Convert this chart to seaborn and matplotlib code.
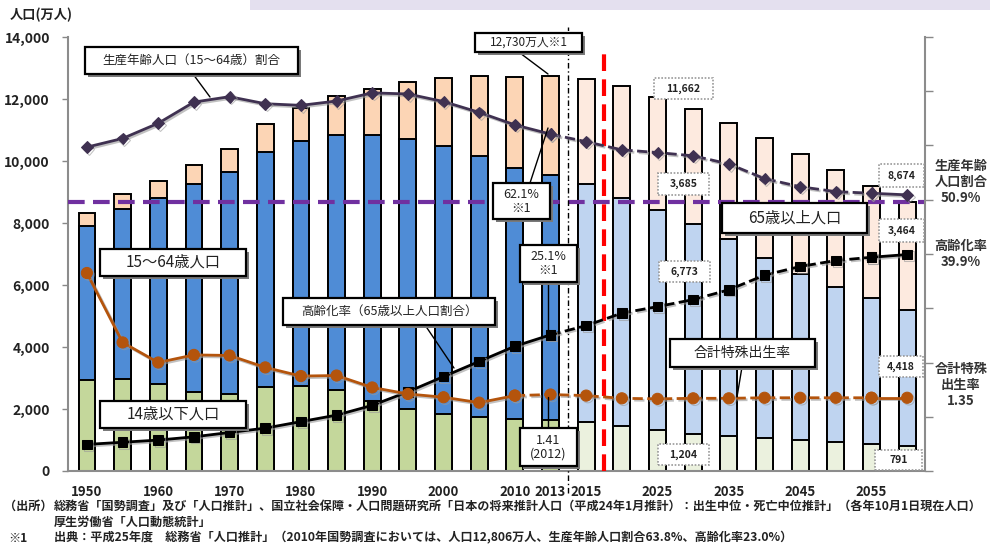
import numpy as np
import pandas as pd
import matplotlib
matplotlib.use("Agg")
import matplotlib.pyplot as plt
import matplotlib.patheffects as pe
import seaborn as sns
from matplotlib.patches import Rectangle
from matplotlib.lines import Line2D

# ---------------- data ----------------
years = ['1950', '1955', '1960', '1965', '1970', '1975', '1980', '1985', '1990', '1995',
         '2000', '2005', '2010', '2013', '2015', '2020', '2025', '2030', '2035', '2040',
         '2045', '2050', '2055', '2060']
pop_0_14 = [2943, 2980, 2807, 2553, 2482, 2722, 2751, 2603, 2249, 2001,
            1847, 1752, 1680, 1639, 1583, 1457, 1324, 1204, 1129, 1073,
            1012, 939, 861, 791]
pop_15_64 = [4966, 5473, 6000, 6693, 7157, 7581, 7883, 8251, 8590, 8716,
             8622, 8409, 8103, 7901, 7682, 7341, 7085, 6773, 6343, 5787,
             5353, 5001, 4706, 4418]
pop_65_over = [411, 475, 535, 618, 733, 887, 1065, 1247, 1489, 1826,
               2204, 2576, 2925, 3190, 3395, 3612, 3657, 3685, 3741, 3868,
               3856, 3768, 3626, 3464]
working_age_ratio = [59.7, 61.3, 64.1, 68.0, 69.0, 67.7, 67.4, 68.2, 69.7, 69.5,
                     68.1, 66.1, 63.8, 62.1, 60.7, 59.2, 58.7, 58.1, 56.6, 53.9,
                     52.4, 51.5, 51.2, 50.9]
aging_rate = [4.9, 5.3, 5.7, 6.3, 7.1, 7.9, 9.1, 10.3, 12.1, 14.6,
              17.4, 20.2, 23.0, 25.1, 26.8, 29.1, 30.3, 31.6, 33.4, 36.1,
              37.7, 38.8, 39.4, 39.9]
fertility_rate = [3.65, 2.37, 2.00, 2.14, 2.13, 1.91, 1.75, 1.76, 1.54, 1.42,
                  1.36, 1.26, 1.39, 1.41, 1.39, 1.34, 1.33, 1.34, 1.34, 1.35,
                  1.35, 1.35, 1.35, 1.35]
n_actual = 14  # 1950-2013 are actual values, the rest are projections
tick_years = ['1950', '1960', '1970', '1980', '1990', '2000', '2010', '2013', '2015',
              '2025', '2035', '2045', '2055']
y_ticks = [0, 2000, 4000, 6000, 8000, 10000, 12000, 14000]

# ---------------- style ----------------
sns.set_theme(style='white')
plt.rcParams['font.family'] = ['Noto Sans CJK JP', 'DejaVu Sans']
plt.rcParams['axes.unicode_minus'] = False

W, H = 990, 547
fig = plt.figure(figsize=(W / 100, H / 100), dpi=100)
fig.patch.set_facecolor('white')
ax = fig.add_axes([68 / W, 1 - 471 / H, (925 - 68) / W, (471 - 37) / H])

df = pd.DataFrame({'year': years, 'young': pop_0_14, 'work': pop_15_64, 'old': pop_65_over})
df['cum_work'] = df['young'] + df['work']
df['total'] = df['cum_work'] + df['old']
idx = np.arange(len(years))
is_actual = idx < n_actual


def colors(actual, proj):
    return [actual if a else proj for a in is_actual]


layers = [('total', '#fcd5b5', '#fdeadf'),
          ('cum_work', '#4f8cd6', '#bfd4f0'),
          ('young', '#c4d79b', '#ebf1de')]
for col, ca, cp in layers:
    sns.barplot(data=df, x='year', y=col, hue='year', order=years, hue_order=years,
                palette=colors(ca, cp), saturation=1, width=0.47, edgecolor='black',
                linewidth=1.4, legend=False, ax=ax, zorder=2)

ax.set_xlim(-0.53, 23.47)
ax.set_ylim(0, 14000)
ax.set_xlabel('')
ax.set_ylabel('')
ax.set_yticks(y_ticks)
ax.set_yticklabels([f'{v:,}' for v in y_ticks], fontsize=10, fontweight='bold', color='#222222')
ax.set_xticks([years.index(t) for t in tick_years])
ax.set_xticklabels(tick_years, fontsize=9.5, fontweight='bold', color='#222222')
ax.set_xticks(np.arange(len(years) + 1) - 0.5, minor=True)
ax.tick_params(axis='x', which='major', length=0, pad=10)
ax.tick_params(axis='x', which='minor', length=5, color='#888888', width=1, direction='out')
ax.tick_params(axis='y', which='major', length=4, color='#888888', width=1, direction='out', pad=9)
for s in ['top', 'right']:
    ax.spines[s].set_visible(False)
for s in ['left', 'bottom']:
    ax.spines[s].set_color('#8c8c8c')
    ax.spines[s].set_linewidth(1.5)

# reference lines
ax.axhline(df['total'].iloc[-1], color='#7030a0', lw=3, dashes=(4, 2), zorder=4)
ax.axvline(14.5, ymin=0, ymax=0.98, color='#ff0000', lw=3, dashes=(4, 2), zorder=4)
ax.axvline(13.5, ymin=-0.05, ymax=1.023, color='black', lw=1, clip_on=False,
           linestyle=(0, (4, 2, 1, 2)), zorder=4)

# ratio axes
ax2 = ax.twinx()
ax3 = ax.twinx()

shadow = [pe.SimpleLineShadow(offset=(1.2, -1.2), shadow_color='#999999', alpha=0.6), pe.Normal()]


def draw_series(axis, values, color, marker, ms, dash_from):
    vals = np.asarray(values)
    parts = [(0, dash_from + 1, '-'), (dash_from, 23, '--'), (22, 24, '-')]
    for a, b, ls in parts:
        sns.lineplot(x=idx[a:b], y=vals[a:b], color=color, linestyle=ls, lw=2,
                     marker=marker, markersize=ms, markeredgecolor=color,
                     markerfacecolor=color, ax=axis, path_effects=shadow, zorder=5)
    axis.set_xlabel('')
    axis.set_ylabel('')


draw_series(ax2, working_age_ratio, '#3f3151', 'D', 6, 13)
draw_series(ax2, aging_rate, '#000000', 's', 7, 13)
draw_series(ax3, fertility_rate, '#b4540c', 'o', 8, 12)

ax2.set_ylim(0, 80)
ax2.set_yticks(np.arange(0, 81, 10))
ax2.set_yticklabels([])
ax2.tick_params(axis='y', length=6, color='#888888', width=1, direction='out')
for s in ['top', 'left', 'bottom']:
    ax2.spines[s].set_visible(False)
ax2.spines['right'].set_color('#8c8c8c')
ax2.spines['right'].set_linewidth(1.5)

ax3.set_ylim(0, 8)
ax3.set_yticks([])
for s in ax3.spines.values():
    s.set_visible(False)

# ---------------- annotations (pixel layout) ----------------
def fx(x):
    return x / W


def fy(y):
    return 1 - y / H


def box(x0, y0, x1, y1, text, fs, dotted=False, weight='normal', shadow_px=3):
    if not dotted and shadow_px:
        fig.add_artist(Rectangle((fx(x0 + shadow_px), fy(y1 + shadow_px)), (x1 - x0) / W,
                                 (y1 - y0) / H, transform=fig.transFigure,
                                 facecolor='#7a7a7a', edgecolor='none', zorder=8))
    fig.add_artist(Rectangle((fx(x0), fy(y1)), (x1 - x0) / W, (y1 - y0) / H,
                             transform=fig.transFigure, facecolor='white',
                             edgecolor='#999999' if dotted else 'black',
                             lw=1.2 if dotted else 1.6,
                             linestyle=(0, (1, 1)) if dotted else '-', zorder=9))
    fig.text(fx((x0 + x1) / 2), fy((y0 + y1) / 2), text, ha='center', va='center',
             fontsize=fs, fontweight=weight, color='#222222', zorder=10, linespacing=1.1)


def leader(x0, y0, x1, y1):
    fig.add_artist(Line2D([fx(x0), fx(x1)], [fy(y0), fy(y1)], color='black', lw=1,
                          transform=fig.transFigure, zorder=7))


leader(193, 74, 210, 97)
box(85, 47, 298, 74, '生産年齢人口（15～64歳）割合', 9)
box(100, 249, 246, 276, '15～64歳人口', 11)
box(100, 401, 246, 428, '14歳以下人口', 11)
leader(425, 325, 454, 368)
box(283, 298, 495, 325, '高齢化率（65歳以上人口割合）', 9)
leader(520, 53, 548, 74)
box(475, 33, 582, 52, '12,730万人※1', 8.5)
leader(530, 183, 548, 128)
box(493, 183, 550, 219, '62.1%\n※1', 9)
leader(548, 282, 548, 333)
box(520, 245, 577, 282, '25.1%\n※1', 9)
leader(548, 397, 548, 428)
box(520, 428, 577, 466, '1.41\n(2012)', 9)
box(722, 203, 867, 233, '65歳以上人口', 11)
leader(742, 367, 737, 397)
box(670, 339, 815, 367, '合計特殊出生率', 10)

box(654, 78, 713, 99, '11,662', 7.5, dotted=True, weight='bold')
box(658, 173, 709, 195, '3,685', 7.5, dotted=True, weight='bold')
box(659, 261, 710, 282, '6,773', 7.5, dotted=True, weight='bold')
box(658, 444, 709, 465, '1,204', 7.5, dotted=True, weight='bold')
box(879, 164, 924, 187, '8,674', 7.5, dotted=True, weight='bold')
box(879, 219, 924, 242, '3,464', 7.5, dotted=True, weight='bold')
box(879, 356, 923, 377, '4,418', 7.5, dotted=True, weight='bold')
box(875, 450, 922, 470, '791', 7.5, dotted=True, weight='bold')

# right-side labels
for txt, y in [('生産年齢\n人口割合\n50.9%', 182), ('高齢化率\n39.9%', 254), ('合計特殊\n出生率\n1.35', 385)]:
    fig.text(fx(961), fy(y), txt, ha='center', va='center', fontsize=9.5,
             fontweight='bold', color='#333333', linespacing=1.2)

# axis title
fig.text(fx(10), fy(15), '人口(万人)', ha='left', va='center', fontsize=9.5,
         fontweight='bold', color='#222222')

# top banner (partially visible)
fig.add_artist(Rectangle((fx(250), fy(10)), (990 - 250) / W, 10 / H, transform=fig.transFigure,
                         facecolor='#e4e0ef', edgecolor='none', zorder=1))

# footnotes
fn = 8.7
fig.text(fx(4), fy(506), '（出所）', ha='left', va='center', fontsize=fn, fontweight='bold', color='#222222')
fig.text(fx(54), fy(506), '総務省「国勢調査」及び「人口推計」、国立社会保障・人口問題研究所「日本の将来推計人口（平成24年1月推計）：出生中位・死亡中位推計」（各年10月1日現在人口）',
         ha='left', va='center', fontsize=fn, fontweight='bold', color='#222222')
fig.text(fx(54), fy(522), '厚生労働省「人口動態統計」', ha='left', va='center', fontsize=fn,
         fontweight='bold', color='#222222')
fig.text(fx(8), fy(538), '※1', ha='left', va='center', fontsize=fn, fontweight='bold', color='#222222')
fig.text(fx(54), fy(538), '出典：平成25年度　総務省「人口推計」（2010年国勢調査においては、人口12,806万人、生産年齢人口割合63.8%、高齢化率23.0%）',
         ha='left', va='center', fontsize=fn, fontweight='bold', color='#222222')

fig.savefig('out.png', dpi=100)
